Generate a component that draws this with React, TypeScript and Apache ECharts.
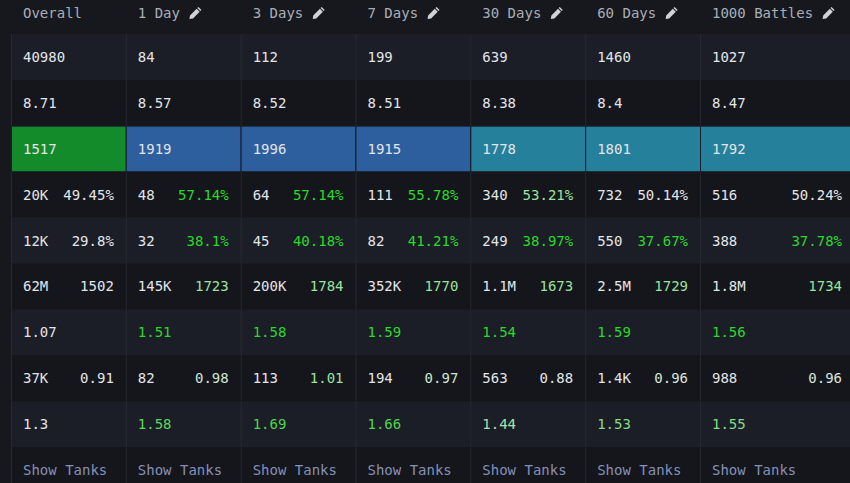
import React, { useEffect, useRef } from "react";
import * as echarts from "echarts";

// ---- data ----
const columns = ["Overall", "1 Day", "3 Days", "7 Days", "30 Days", "60 Days", "1000 Battles"];
const editable = [false, true, true, true, true, true, true];

const battles = ["40980", "84", "112", "199", "639", "1460", "1027"];
const avgTier = ["8.71", "8.57", "8.52", "8.51", "8.38", "8.4", "8.47"];
const wn8 = [1517, 1919, 1996, 1915, 1778, 1801, 1792];
const wins = ["20K", "48", "64", "111", "340", "732", "516"];
const winRate = ["49.45%", "57.14%", "57.14%", "55.78%", "53.21%", "50.14%", "50.24%"];
const survived = ["12K", "32", "45", "82", "249", "550", "388"];
const survivalRate = ["29.8%", "38.1%", "40.18%", "41.21%", "38.97%", "37.67%", "37.78%"];
const damage = ["62M", "145K", "200K", "352K", "1.1M", "2.5M", "1.8M"];
const avgDamage = ["1502", "1723", "1784", "1770", "1673", "1729", "1734"];
const damageRatio = ["1.07", "1.51", "1.58", "1.59", "1.54", "1.59", "1.56"];
const frags = ["37K", "82", "113", "194", "563", "1.4K", "988"];
const avgFrags = ["0.91", "0.98", "1.01", "0.97", "0.88", "0.96", "0.96"];
const kdRatio = ["1.3", "1.58", "1.69", "1.66", "1.44", "1.53", "1.55"];
const footer = "Show Tanks";

// ---- text colour keys per cell ----
const winRateTone = ["w", "g", "g", "g", "l", "w", "w"];
const survivalTone = ["w", "g", "g", "g", "g", "g", "g"];
const avgDamageTone = ["w", "l", "l", "l", "l", "l", "l"];
const damageRatioTone = ["w", "g", "g", "g", "g", "g", "g"];
const avgFragsTone = ["w", "p", "l", "p", "w", "q", "q"];
const kdTone = ["w", "m", "n", "n", "a", "k", "k"];

const TONES: Record<string, string> = {
  w: "#e3e5ea",
  g: "#2ad92a",
  l: "#9de29d",
  p: "#d2e6d2",
  q: "#dde5dd",
  m: "#5fd65f",
  n: "#4dd84d",
  a: "#a9e2a9",
  k: "#85dc85",
};

const BG = "#16181e";
const ROW_LIGHT = "#1b1e26";
const ROW_DARK = "#14161b";
const VLINE = "#252932";
const HEADER = "#a9aeb8";
const LINK = "#8690b8";
const FONT = '"DejaVu Sans Mono", monospace';
const X_MAX = 7.341;
const Y_MIN = -0.7407;

function wn8Color(v: number) {
  if (v >= 1850) return "#2d5f9f";
  if (v >= 1550) return "#24809b";
  return "#138b2a";
}

type Cell = {
  col: number;
  row: number;
  left: string;
  leftColor: string;
  right?: string;
  rightColor?: string;
  fill?: string;
  header?: boolean;
  pencil?: boolean;
};

const cells: Cell[] = [];
columns.forEach((name, c) => {
  cells.push({ col: c, row: -1, left: name, leftColor: HEADER, header: true, pencil: editable[c] });
  const W = TONES.w;
  cells.push({ col: c, row: 0, left: battles[c], leftColor: W });
  cells.push({ col: c, row: 1, left: avgTier[c], leftColor: W });
  cells.push({ col: c, row: 2, left: String(wn8[c]), leftColor: W, fill: wn8Color(wn8[c]) });
  cells.push({ col: c, row: 3, left: wins[c], leftColor: W, right: winRate[c], rightColor: TONES[winRateTone[c]] });
  cells.push({ col: c, row: 4, left: survived[c], leftColor: W, right: survivalRate[c], rightColor: TONES[survivalTone[c]] });
  cells.push({ col: c, row: 5, left: damage[c], leftColor: W, right: avgDamage[c], rightColor: TONES[avgDamageTone[c]] });
  cells.push({ col: c, row: 6, left: damageRatio[c], leftColor: TONES[damageRatioTone[c]] });
  cells.push({ col: c, row: 7, left: frags[c], leftColor: W, right: avgFrags[c], rightColor: TONES[avgFragsTone[c]] });
  cells.push({ col: c, row: 8, left: kdRatio[c], leftColor: TONES[kdTone[c]] });
  cells.push({ col: c, row: 9, left: footer, leftColor: LINK });
});

const PENCIL =
  "M9 0 L12 3 L10.9 4.1 L7.9 1.1 Z M7.2 1.8 L10.2 4.8 L3.6 11.4 L0 12 L0.6 8.4 Z";

export default function App() {
  const ref = useRef<HTMLDivElement>(null);
  useEffect(() => {
    if (!ref.current) return;
    const chart = echarts.init(ref.current, undefined, { renderer: "svg" });
    const renderItem = (params: any, api: any) => {
      const cell = cells[params.dataIndex];
      const c = api.value(0);
      const r = api.value(1);
      const children: any[] = [];
      if (cell.header) {
        const top0 = api.coord([c, 0]);
        const x0 = top0[0];
        const ty = top0[1] - 21;
        children.push({
          type: "text",
          x: x0 + 12,
          y: ty,
          style: { text: cell.left, fill: cell.leftColor, fontSize: 14, fontFamily: FONT, fontWeight: 500, align: "left", verticalAlign: "middle" },
        });
        if (cell.pencil) {
          const px = x0 + 12 + (cell.left.length + 1) * 8.43 + 1;
          children.push({
            type: "path",
            shape: { pathData: PENCIL, x: px, y: ty - 6, width: 12, height: 12 },
            style: { fill: "#cfd2d8" },
          });
        }
        return { type: "group", children };
      }
      const p0 = api.coord([c, r]);
      const p1 = api.coord([c === columns.length - 1 ? X_MAX : c + 1, r + 1]);
      const x0 = p0[0], y0 = p0[1];
      const w = p1[0] - x0, h = p1[1] - y0;
      const cy = y0 + h / 2;
      children.push({
        type: "rect",
        shape: { x: x0, y: y0, width: w + 0.5, height: h + 0.5 },
        style: { fill: r % 2 === 0 ? ROW_LIGHT : ROW_DARK },
      });
      if (cell.fill) {
        children.push({
          type: "rect",
          shape: { x: x0, y: y0, width: w, height: h },
          style: { fill: "#1a2030" },
        });
        children.push({
          type: "rect",
          shape: { x: x0 + 1, y: y0 + 1, width: w - 1, height: h - 1.5 },
          style: { fill: cell.fill },
        });
      } else {
        children.push({
          type: "rect",
          shape: { x: x0, y: y0, width: 1, height: h + 0.5 },
          style: { fill: VLINE },
        });
      }
      children.push({
        type: "text",
        x: x0 + 12,
        y: cy,
        style: { text: cell.left, fill: cell.leftColor, fontSize: 14, fontFamily: FONT, align: "left", verticalAlign: "middle" },
      });
      if (cell.right) {
        children.push({
          type: "text",
          x: x0 + w - 12,
          y: cy,
          style: { text: cell.right, fill: cell.rightColor, fontSize: 14, fontFamily: FONT, align: "right", verticalAlign: "middle" },
        });
      }
      return { type: "group", children };
    };
    chart.setOption({
      animation: false,
      backgroundColor: BG,
      grid: { left: 11, top: 0, right: 0, bottom: 0 },
      xAxis: { type: "value", min: 0, max: X_MAX, show: false },
      yAxis: { type: "value", min: Y_MIN, max: 10, inverse: true, show: false },
      series: [
        {
          type: "custom",
          renderItem,
          clip: false,
          data: cells.map((cl) => [cl.col, cl.row]),
        },
      ],
    });
    return () => chart.dispose();
  }, []);
  return (
    <div style={{ position: "fixed", left: 0, top: 0, width: 850, height: 483, overflow: "hidden", background: BG }}>
      <div ref={ref} style={{ width: 854, height: 493 }} />
    </div>
  );
}
